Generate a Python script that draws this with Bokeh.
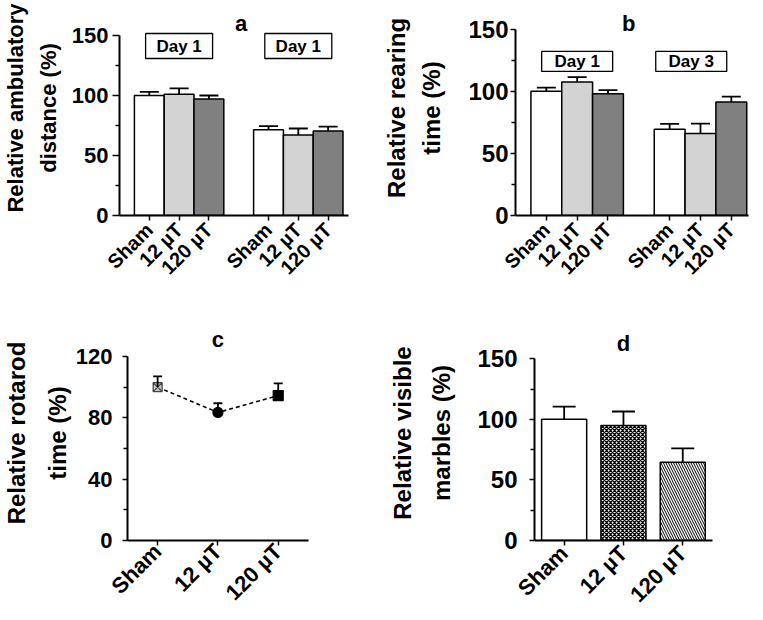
import math
from bokeh.plotting import figure
from bokeh.layouts import column, row
from bokeh.models import FixedTicker, Range1d, Whisker, TeeHead, ColumnDataSource
from bokeh.core.properties import value
from bokeh.embed import file_html
from bokeh.resources import INLINE

# ---------------- data ----------------
groups = ["Sham", "12 µT", "120 µT"]
bar_colors = ["#ffffff", "#d3d3d3", "#808080"]

a_boxes = ["Day 1", "Day 1"]
a_day1 = [100, 101, 97]
a_day1_err = [3, 5, 3]
a_day2 = [71.5, 67, 70.5]
a_day2_err = [3, 5.5, 3.5]

b_boxes = ["Day 1", "Day 3"]
b_day1 = [100, 107.5, 98]
b_day1_err = [3, 4, 3]
b_day3 = [69.5, 66, 91.5]
b_day3_err = [4.3, 8, 4.3]

c_mean = [100, 83.5, 94.5]
c_err = [7, 6, 8]

d_mean = [100, 95, 64.5]
d_err = [10.5, 11.5, 11.5]

y_ticks_150 = [0, 50, 100, 150]
y_minor_150 = [25, 75, 125]
y_ticks_120 = [0, 40, 80, 120]
y_minor_120 = [20, 60, 100]

FONT = "Liberation Sans"


def make_fig(width, height, x_start, x_end, y_end, left, right, top, bottom):
    p = figure(width=width, height=height,
               x_range=Range1d(x_start, x_end), y_range=Range1d(0, y_end),
               output_backend="svg", toolbar_location=None,
               min_border_left=left, min_border_right=right,
               min_border_top=top, min_border_bottom=bottom)
    p.outline_line_color = None
    p.grid.visible = False
    p.background_fill_color = "white"
    return p


def style_axes(p, xticks, xlabels, xbounds, yticks, yminor, ybounds, ylabel,
               xtick_size="20px", xlab_standoff=6,
               ytick_size="22px", ytick_out=7, ylab_standoff=4, yaxis_standoff=3,
               ylabel_size="23px", ylabel_lh=1.2):
    xa = p.xaxis[0]
    ya = p.yaxis[0]
    xa.ticker = FixedTicker(ticks=xticks)
    xa.major_label_overrides = {t: l for t, l in zip(xticks, xlabels)}
    xa.major_label_orientation = math.pi / 4
    xa.major_label_text_font = FONT
    xa.major_label_text_font_style = "bold"
    xa.major_label_text_font_size = xtick_size
    xa.major_label_text_color = "black"
    xa.major_label_standoff = xlab_standoff
    xa.major_tick_out = 5
    xa.major_tick_in = 0
    xa.minor_tick_out = 0
    xa.minor_tick_in = 0
    xa.axis_line_width = 2
    xa.major_tick_line_width = 1.5
    xa.bounds = xbounds

    ya.ticker = FixedTicker(ticks=yticks, minor_ticks=yminor)
    ya.major_label_text_font = FONT
    ya.major_label_text_font_style = "bold"
    ya.major_label_text_font_size = ytick_size
    ya.major_label_text_color = "black"
    ya.major_label_standoff = ylab_standoff
    ya.major_tick_out = ytick_out
    ya.major_tick_in = 0
    ya.minor_tick_out = 4
    ya.minor_tick_in = 0
    ya.axis_line_width = 2
    ya.major_tick_line_width = 1.5
    ya.minor_tick_line_width = 1.5
    ya.bounds = ybounds
    ya.axis_label = ylabel
    ya.axis_label_text_font = FONT
    ya.axis_label_text_font_style = "bold"
    ya.axis_label_text_font_size = ylabel_size
    ya.axis_label_text_color = "black"
    ya.axis_label_text_line_height = ylabel_lh
    ya.axis_label_standoff = yaxis_standoff


def grouped_source(series, errs):
    xs, tops, ups, cols = [], [], [], []
    for g, (vals, es) in enumerate(zip(series, errs)):
        for i, (v, e) in enumerate(zip(vals, es)):
            xs.append(1 + i + 4 * g)
            tops.append(v)
            ups.append(v + e)
            cols.append(bar_colors[i])
    return ColumnDataSource(dict(x=xs, top=tops, up=ups, color=cols))


def add_title(p, x, y, txt):
    p.text(x=[x], y=[y], text=[txt], text_align="center", text_baseline="alphabetic",
           text_font=value(FONT), text_font_style="bold", text_font_size="22px",
           text_color="black")


def add_boxes(p, xs, y, labels, w, h, fs):
    p.rect(x=xs, y=[y] * len(xs), width=w, height=h, width_units="screen",
           height_units="screen", fill_color="white", line_color="black", line_width=1.3)
    p.text(x=xs, y=[y] * len(xs), text=labels, text_align="center", text_baseline="middle",
           text_font=value(FONT), text_font_style="bold", text_font_size=fs,
           text_color="black")


def add_whiskers(p, src, base, lower, upper, head):
    p.add_layout(Whisker(source=src, base=base, lower=lower, upper=upper,
                         line_width=1.8, line_color="black", level="glyph",
                         upper_head=TeeHead(size=head, line_width=1.8, line_color="black"),
                         lower_head=None))


group_ticks = [1, 2, 3, 5, 6, 7]
group_labels = groups + groups

# ---------------- panel a ----------------
pa = make_fig(380, 300, 0, 268 / 30.6, 215 / 1.2, 112, 0, 0, 85)
src_a = grouped_source([a_day1, a_day2], [a_day1_err, a_day2_err])
add_whiskers(pa, src_a, "x", "top", "up", 19)
pa.vbar(x="x", top="top", bottom=0, width=1, fill_color="color", line_color="black",
        line_width=1.5, source=src_a)
add_boxes(pa, [2, 6], 141.25, a_boxes, 67, 25, "17px")
add_title(pa, 4.08, 160, "a")
style_axes(pa, group_ticks, group_labels, (0, 7.7), y_ticks_150, y_minor_150, (0, 150),
           "Relative ambulatory\ndistance (%)", ytick_out=7, ylab_standoff=4,
           yaxis_standoff=8, ylabel_size="22px", ylabel_lh=1.3)

# ---------------- panel b ----------------
pb = make_fig(383, 300, 0, 250 / 31.08, 217 / 1.2533, 133, 0, 0, 83)
src_b = grouped_source([b_day1, b_day3], [b_day1_err, b_day3_err])
add_whiskers(pb, src_b, "x", "top", "up", 19)
pb.vbar(x="x", top="top", bottom=0, width=1, fill_color="color", line_color="black",
        line_width=1.5, source=src_b)
add_boxes(pb, [2, 5.7], 124.1, b_boxes, 71, 20, "17px")
add_title(pb, 3.67, 154.8, "b")
style_axes(pb, group_ticks, group_labels, (0, 7.55), y_ticks_150, y_minor_150, (0, 150),
           "Relative rearing\ntime (%)", ytick_size="24px", ytick_out=5, ylab_standoff=2,
           yaxis_standoff=20, ylabel_size="24px", ylabel_lh=1.3)

# ---------------- panel c ----------------
pc = make_fig(380, 320, -0.5, -0.5 + 256 / 61, 227 / 1.619, 124, 0, 18, 75)
c_x = list(range(len(groups)))
src_c = ColumnDataSource(dict(
    x=c_x, y=c_mean, up=[m + e for m, e in zip(c_mean, c_err)],
    marker=["square_x", "circle", "square"],
    fill=["#c4c4c4", "black", "black"],
    line=["#444444", "black", "black"],
    size=[9, 10, 10]))
add_whiskers(pc, src_c, "x", "y", "up", 9)
pc.line(x="x", y="y", source=src_c, line_dash="4 3", line_width=1.6, line_color="black")
pc.scatter(x="x", y="y", marker="marker", size="size", fill_color="fill",
           line_color="line", line_width=1.2, source=src_c)
add_title(pc, 1, 131, "c")
style_axes(pc, c_x, groups, (-0.5, 2.5), y_ticks_120, y_minor_120, (0, 120),
           "Relative rotarod\ntime (%)", xtick_size="22px", xlab_standoff=2,
           ytick_out=5, ylab_standoff=10,
           yaxis_standoff=2, ylabel_size="24px", ylabel_lh=1.5)

# ---------------- panel d ----------------
pd_ = make_fig(383, 320, -0.5, -0.5 + 229 / 59.3, 215 / 1.2113, 154, 0, 25, 80)
d_x = list(range(len(groups)))
src_d = ColumnDataSource(dict(x=d_x, top=d_mean, up=[m + e for m, e in zip(d_mean, d_err)]))
add_whiskers(pd_, src_d, "x", "top", "up", 23)
pd_.vbar(x=[d_x[0]], top=[d_mean[0]], bottom=0, width=0.76, fill_color="white",
         line_color="black", line_width=1.5)
pd_.vbar(x=[d_x[1]], top=[d_mean[1]], bottom=0, width=0.76, fill_color="white",
         line_color="black", line_width=1.5, hatch_pattern="diagonal_cross",
         hatch_scale=4, hatch_weight=1.3, hatch_color="black")
pd_.vbar(x=[d_x[2]], top=[d_mean[2]], bottom=0, width=0.76, fill_color="white",
         line_color="black", line_width=1.5, hatch_pattern="left_diagonal_line",
         hatch_scale=5, hatch_weight=1, hatch_color="black")
add_title(pd_, 1, 162.6, "d")
style_axes(pd_, d_x, groups, (-0.5, 2.5), y_ticks_150, y_minor_150, (0, 150),
           "Relative visible\nmarbles (%)", xtick_size="22px", xlab_standoff=4,
           ytick_size="24px", ytick_out=5, ylab_standoff=12,
           yaxis_standoff=19, ylabel_size="24px", ylabel_lh=1.45)

layout = column(row(pa, pb), row(pc, pd_))
open("out.html", "w").write(file_html(layout, INLINE))
